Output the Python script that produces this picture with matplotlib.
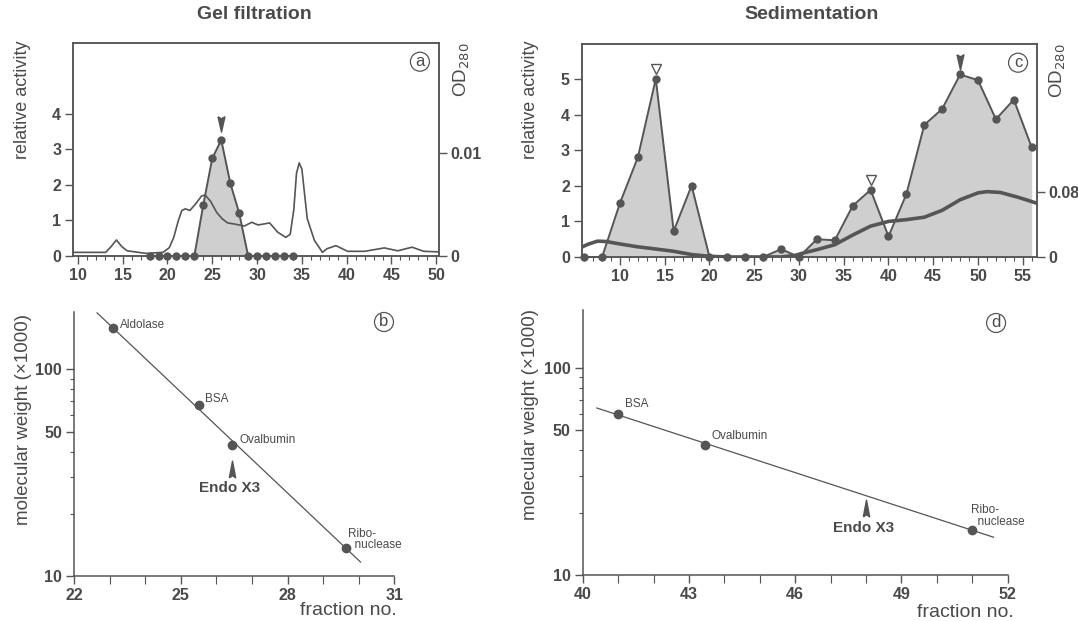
import matplotlib
matplotlib.use('Agg')
import matplotlib.pyplot as plt
import numpy as np

plt.rcParams['font.family'] = ['Liberation Sans', 'DejaVu Sans']

# ---------------- data ----------------
# Panel a: gel filtration
gel_fraction = [18, 19, 20, 21, 22, 23, 24, 25, 26, 27, 28, 29, 30, 31, 32, 33, 34]
gel_activity = [0, 0, 0, 0, 0, 0, 1.45, 2.75, 3.27, 2.06, 1.21, 0, 0, 0, 0, 0, 0]
gel_od_x = [9.5, 13.1, 13.7, 14.3, 14.9, 15.5, 17.6, 19.5, 20.2, 20.7, 21.2, 21.6, 22.0, 22.5,
            23.2, 23.8, 24.2, 24.8, 25.5, 26.1, 26.7, 27.4, 28.6, 29.4, 30.1, 30.8, 31.4,
            32.3, 33.2, 33.7, 34.1, 34.4, 34.7, 35.0, 35.3, 35.6, 36.4, 37.3, 37.8, 38.8,
            40.1, 42.0, 44.2, 45.7, 47.3, 48.6, 50.2]
gel_od_y = [0.00035, 0.00035, 0.0009, 0.00155, 0.0009, 0.0005, 0.00025, 0.00035, 0.0008,
            0.0018, 0.0034, 0.0044, 0.00456, 0.0044, 0.0051, 0.0058, 0.0059, 0.0053, 0.0042,
            0.0036, 0.0032, 0.0031, 0.0029, 0.00326, 0.0030, 0.0031, 0.0032, 0.0023, 0.0018,
            0.0021, 0.0045, 0.0080, 0.0090, 0.0084, 0.0060, 0.0036, 0.0015, 0.00035, 0.0007,
            0.0010, 0.00045, 0.00045, 0.00078, 0.0005, 0.00085, 0.00045, 0.0004]
gel_endo_peak = 26

# Panel c: sedimentation
sed_fraction = [6, 8, 10, 12, 14, 16, 18, 20, 22, 24, 26, 28, 30, 32, 34, 36, 38, 40, 42,
                44, 46, 48, 50, 52, 54, 56]
sed_activity = [0, 0, 1.52, 2.81, 5.02, 0.73, 2.01, 0, 0, 0, 0, 0.22, 0, 0.5, 0.47, 1.44,
                1.89, 0.58, 1.77, 3.72, 4.17, 5.14, 4.98, 3.88, 4.43, 3.09]
sed_od_x = [5.7, 6.5, 7.5, 8.5, 10, 12, 14, 16, 18, 20, 22, 26, 28, 29.5, 30.5, 32, 34, 36,
            38, 40, 42, 44, 46, 48, 50, 51, 52.5, 54.5, 56.5]
sed_od_y = [0.012, 0.016, 0.0195, 0.019, 0.016, 0.0125, 0.0098, 0.007, 0.003, 0.0008, 0.0,
            0.0, 0.0, 0.0018, 0.005, 0.009, 0.0151, 0.027, 0.038, 0.0438, 0.046, 0.049,
            0.0575, 0.0705, 0.079, 0.0805, 0.0795, 0.0735, 0.0665]
sed_open_peaks = [14, 38]
sed_endo_peak = 48

# Panel b: gel filtration calibration
gel_std_names = ['Aldolase', 'BSA', 'Ovalbumin', 'Ribo-\n  nuclease']
gel_std_fraction = [23.1, 25.5, 26.45, 29.65]
gel_std_mw = [158, 67, 43, 13.7]
gel_endo_fraction = 26.45
gel_endo_mw = 33

# Panel d: sedimentation calibration
sed_std_names = ['BSA', 'Ovalbumin', 'Ribo-\n  nuclease']
sed_std_fraction = [41.0, 43.45, 51.0]
sed_std_mw = [60, 42.5, 16.5]
sed_endo_fraction = 48.0
sed_endo_mw = 21

# ---------------- style ----------------
TXT = '#4a4a4a'
LINE = '#555555'
FILL = '#cfcfcf'
ARROW_UP = [(-0.38, -1), (0, 1), (0.38, -1), (0, -0.75), (-0.38, -1)]
ARROW_DN = [(-0.45, 1), (0, -1), (0.45, 1), (0, 0.75), (-0.45, 1)]

fig = plt.figure(figsize=(10.78, 6.21), dpi=100)


def style_ticks(ax):
    ax.tick_params(which='major', direction='out', length=5.5, width=1, colors=LINE,
                   labelcolor=TXT, labelsize=11.5, pad=3)
    ax.tick_params(which='minor', direction='out', length=3, width=0.8, colors=LINE)
    for lab in ax.get_xticklabels() + ax.get_yticklabels():
        lab.set_fontweight('bold')
    for sp in ax.spines.values():
        sp.set_color(LINE)
        sp.set_linewidth(1.1)


def circled(x, y, s):
    fig.text(x, y, s, ha='center', va='center', fontsize=12, color=TXT,
             bbox=dict(boxstyle='circle,pad=0.12', fc='white', ec=LINE, lw=0.9))


# ---- panel a ----
axa = fig.add_axes([0.0677, 0.5878, 0.3395, 0.343])
axa.set_xlim(9.45, 50.3)
axa.set_ylim(0, 6)
axa.fill_between(gel_fraction, gel_activity, 0, color=FILL, lw=0, zorder=1)
axa.plot(gel_fraction, gel_activity, color=LINE, lw=1.4, marker='o', ms=5,
         zorder=3, clip_on=False)
axa.plot([gel_endo_peak], [3.72], marker=ARROW_DN, ms=11, color=LINE, ls='none')
axa.set_xticks(np.arange(10, 51, 5))
axa.set_xticks(np.arange(10, 51, 1), minor=True)
axa.set_yticks([0, 1, 2, 3, 4])
axa2 = axa.twinx()
axa2.set_ylim(0, 0.0206)
axa2.plot(gel_od_x, gel_od_y, color=LINE, lw=1.2)
axa2.set_yticks([0, 0.01])
axa2.set_yticklabels(['0', '0.01'])
style_ticks(axa)
style_ticks(axa2)
axa2.text(1.063, 1.0, 'OD$_{280}$', transform=axa2.transAxes, rotation=90,
          ha='center', va='top', fontsize=13.5, color=TXT)
fig.text(0.0205, 0.839, 'relative activity', rotation=90, ha='center', va='center',
         fontsize=13, color=TXT)
axa.text(0.948, 0.912, 'a', transform=axa.transAxes, ha='center', va='center',
         fontsize=12, color=TXT,
         bbox=dict(boxstyle='circle,pad=0.12', fc='white', ec=LINE, lw=0.9))
fig.text(0.236, 0.977, 'Gel filtration', ha='center', va='center', fontsize=14,
         fontweight='bold', color=TXT)

# ---- panel c ----
axc = fig.add_axes([0.5396, 0.5862, 0.4221, 0.343])
axc.set_xlim(5.72, 56.56)
axc.set_ylim(0, 6)
axc.fill_between(sed_fraction, sed_activity, 0, color=FILL, lw=0, zorder=1)
axc.plot(sed_fraction, sed_activity, color=LINE, lw=1.4, marker='o', ms=5,
         zorder=3, clip_on=False)
axc.plot(sed_open_peaks, [5.29, 2.18], marker='v', ms=6.5, mfc='white', mec=LINE,
         mew=1, ls='none')
axc.plot([sed_endo_peak], [5.49], marker=ARROW_DN, ms=11, color=LINE, ls='none')
axc.set_xticks(np.arange(10, 56, 5))
axc.set_xticks(np.arange(6, 57, 1), minor=True)
axc.set_yticks([0, 1, 2, 3, 4, 5])
axc2 = axc.twinx()
axc2.set_ylim(0, 0.2625)
axc2.plot(sed_od_x, sed_od_y, color=LINE, lw=2.6)
axc2.set_yticks([0, 0.08])
axc2.set_yticklabels(['0', '0.08'])
style_ticks(axc)
style_ticks(axc2)
axc2.text(1.047, 1.0, 'OD$_{280}$', transform=axc2.transAxes, rotation=90,
          ha='center', va='top', fontsize=13.5, color=TXT)
fig.text(0.4917, 0.839, 'relative activity', rotation=90, ha='center', va='center',
         fontsize=13, color=TXT)
axc.text(0.959, 0.912, 'c', transform=axc.transAxes, ha='center', va='center',
         fontsize=12, color=TXT,
         bbox=dict(boxstyle='circle,pad=0.12', fc='white', ec=LINE, lw=0.9))
fig.text(0.753, 0.977, 'Sedimentation', ha='center', va='center', fontsize=14,
         fontweight='bold', color=TXT)


# ---- calibration panels ----
def calib(ax, names, fx, mw, xlim, xticks, line_x, endo_x, endo_mw, offsets):
    ax.set_yscale('log')
    ax.set_xlim(*xlim)
    ax.set_ylim(10, 190)
    coef = np.polyfit(fx, np.log10(mw), 1)
    lx = np.array(line_x)
    ax.plot(lx, 10 ** np.polyval(coef, lx), color=LINE, lw=0.9)
    ax.plot(fx, mw, 'o', color=LINE, ms=6)
    for n, x, y, off in zip(names, fx, mw, offsets):
        ax.annotate(n, (x, y), xytext=off, textcoords='offset points', fontsize=8.5,
                    color=TXT, ha='left', va='center', linespacing=0.95)
    ax.plot([endo_x], [endo_mw], marker=ARROW_UP, ms=12, color=LINE, ls='none')
    ax.annotate('Endo X3', (endo_x, endo_mw), xytext=(-2, -14),
                textcoords='offset points', fontsize=11, fontweight='bold',
                color=TXT, ha='center', va='center')
    ax.set_xticks(xticks[::3])
    ax.set_xticks(xticks, minor=True)
    ax.set_yticks([10, 50, 100])
    ax.set_yticklabels(['10', '50', '100'])
    ax.set_yticks([20, 30, 40, 60, 70, 80, 90], minor=True)
    ax.yaxis.set_minor_formatter(plt.NullFormatter())
    for s in ['top', 'right']:
        ax.spines[s].set_visible(False)
    style_ticks(ax)
    ax.tick_params(axis='x', which='minor', length=5.5)


axb = fig.add_axes([0.0686, 0.0725, 0.2972, 0.4256])
calib(axb, gel_std_names, gel_std_fraction, gel_std_mw, (22, 31), list(range(22, 32)),
      [22.65, 30.05], gel_endo_fraction, gel_endo_mw,
      [(5, 2.5), (5, 4.5), (5, 3.5), (1, 6)])
fig.text(0.0215, 0.324, 'molecular weight (×1000)', rotation=90, ha='center',
         va='center', fontsize=13.5, color=TXT)
fig.text(0.368, 0.017, 'fraction no.', ha='right', va='center', fontsize=14, color=TXT)
circled(0.3562, 0.4815, 'b')

axd = fig.add_axes([0.5405, 0.0741, 0.3943, 0.4267])
calib(axd, sed_std_names, sed_std_fraction, sed_std_mw, (40, 52), list(range(40, 53)),
      [40.4, 51.6], sed_endo_fraction, sed_endo_mw,
      [(5, 7), (5, 6), (-1, 10)])
fig.text(0.4925, 0.332, 'molecular weight (×1000)', rotation=90, ha='center',
         va='center', fontsize=13.5, color=TXT)
fig.text(0.940, 0.013, 'fraction no.', ha='right', va='center', fontsize=14, color=TXT)
circled(0.924, 0.4799, 'd')

fig.savefig('out.png', dpi=100, facecolor='white')
